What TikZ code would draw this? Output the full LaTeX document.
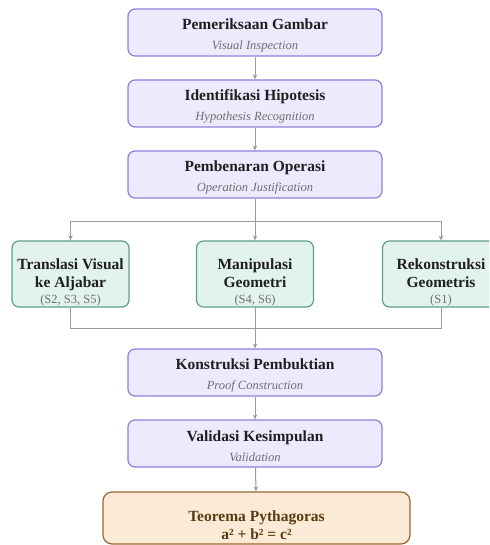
\documentclass[tikz,border=0pt]{standalone}
\usepackage{fontspec}
\setmainfont{Liberation Serif}
\usetikzlibrary{arrows.meta}
\definecolor{pfill}{HTML}{ECEBFE}
\definecolor{pdraw}{HTML}{8F7FDB}
\definecolor{gfill}{HTML}{E2F3EC}
\definecolor{gdraw}{HTML}{5E9F88}
\definecolor{ofill}{HTML}{FBEBD6}
\definecolor{odraw}{HTML}{9A6830}
\definecolor{otext}{HTML}{5A3A12}
\definecolor{subgray}{HTML}{6E6E6E}
\definecolor{linegray}{HTML}{9A9A9A}
\tikzset{
  allbox/.style={line width=1.2pt, align=center, inner sep=0pt,
    font=\fontsize{15.5}{19}\selectfont},
  pbox/.style={allbox, draw=pdraw, fill=pfill, rounded corners=7pt,
    minimum width=254pt, minimum height=47pt, text=black!88},
  gbox/.style={allbox, draw=gdraw, fill=gfill, rounded corners=7pt,
    minimum width=117pt, minimum height=66pt, text=black!88},
  obox/.style={allbox, draw=odraw, fill=ofill, rounded corners=9pt,
    minimum width=307pt, minimum height=52pt, text=otext},
  conn/.style={draw=linegray, line width=1pt},
  arr/.style={conn, -{Stealth[length=5pt,width=4.5pt]}},
}
\newcommand{\ttl}[1]{{\bfseries #1}}
\newcommand{\sbt}[1]{{\fontsize{12.5}{14}\selectfont\itshape\color{subgray}#1}}
\newcommand{\sbr}[1]{{\fontsize{12.5}{14}\selectfont\color{subgray}#1}}
\newcommand{\padtop}[1]{\rule{0pt}{#1}}
\begin{document}
\begin{tikzpicture}[x=1pt,y=-1pt]
\useasboundingbox (0,0) rectangle (489,545);
\clip (0,0) rectangle (489,545);
\node[pbox] (b1) at (255,32.5) {\padtop{17pt}\ttl{Pemeriksaan Gambar}\\[1pt]\sbt{Visual Inspection}};
\node[pbox] (b2) at (255,103.5) {\padtop{17pt}\ttl{Identifikasi Hipotesis}\\[1pt]\sbt{Hypothesis Recognition}};
\node[pbox] (b3) at (255,174.5) {\padtop{17pt}\ttl{Pembenaran Operasi}\\[1pt]\sbt{Operation Justification}};
\node[gbox] (g1) at (70.5,274) {\padtop{28pt}\ttl{Translasi Visual}\\[-1pt]\ttl{ke Aljabar}\\[-3pt]\sbr{(S2, S3, S5)}};
\node[gbox] (g2) at (255,274) {\padtop{28pt}\ttl{Manipulasi}\\[-1pt]\ttl{Geometri}\\[-3pt]\sbr{(S4, S6)}};
\node[gbox] (g3) at (441,274) {\padtop{28pt}\ttl{Rekonstruksi}\\[-1pt]\ttl{Geometris}\\[-3pt]\sbr{(S1)}};
\node[pbox] (b4) at (255,372.5) {\padtop{17pt}\ttl{Konstruksi Pembuktian}\\[1pt]\sbt{Proof Construction}};
\node[pbox] (b5) at (255,443.5) {\padtop{17pt}\ttl{Validasi Kesimpulan}\\[1pt]\sbt{Validation}};
\node[obox] (b6) at (256.5,518) {\padtop{26pt}\ttl{Teorema Pythagoras}\\[-1pt]\ttl{a² + b² = c²}};
\coordinate (jt) at (255,221);
\coordinate (jb) at (255,328);
\draw[arr] (b1) -- (b2);
\draw[arr] (b2) -- (b3);
\draw[conn] (b3) -- (jt);
\draw[arr] (jt) -| (g1.north);
\draw[arr] (jt) -| (g3.north);
\draw[arr] (jt) -- (g2);
\draw[conn] (g1.south) |- (jb);
\draw[conn] (g3.south) |- (jb);
\draw[conn] (g2) -- (jb);
\draw[arr] (jb) -- (b4);
\draw[arr] (b4) -- (b5);
\draw[arr] (b5) -- (b6);
\end{tikzpicture}
\end{document}
